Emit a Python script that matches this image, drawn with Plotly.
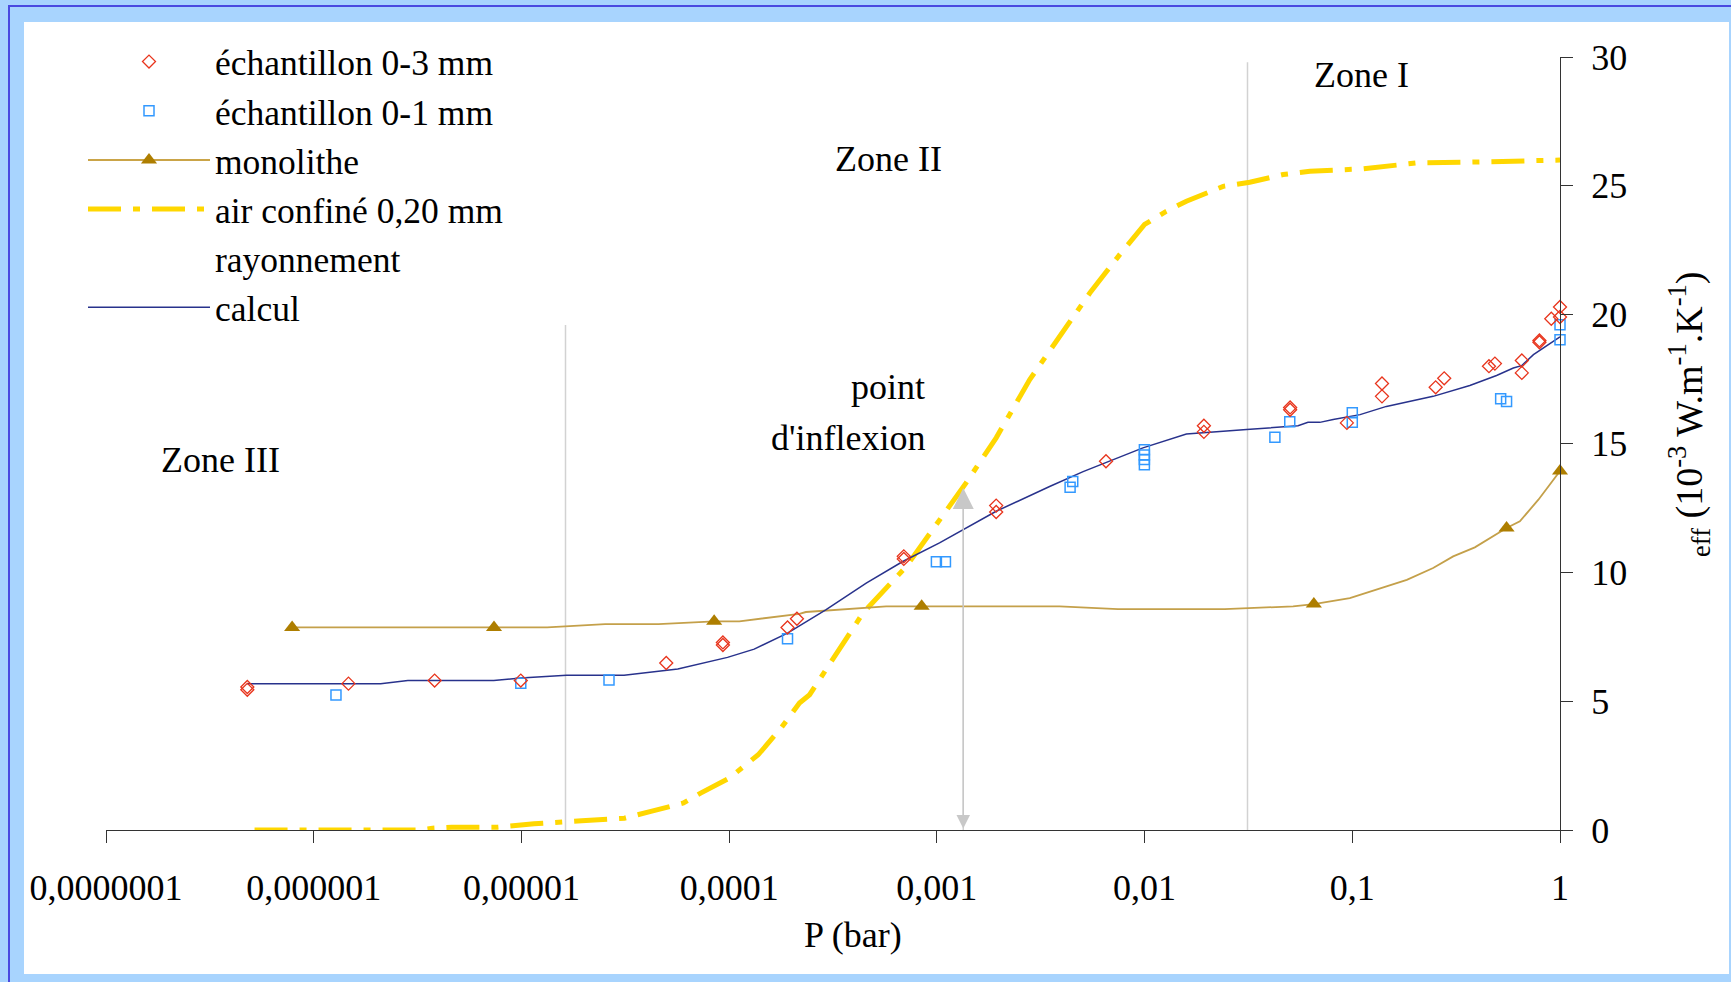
import math
import plotly.graph_objects as go

# ---------------- data ----------------
# P in bar, conductivity in 1e-3 W/m/K
ech03_p = [4.79e-7, 4.79e-7, 1.47e-6, 3.82e-6, 9.93e-6, 4.98e-5, 9.33e-5, 9.33e-5, 1.91e-4, 2.12e-4,
           6.93e-4, 6.93e-4, 1.93e-3, 1.93e-3, 6.52e-3, 0.0193, 0.0193, 0.0502, 0.0502, 0.0942,
           0.139, 0.139, 0.252, 0.277, 0.455, 0.486, 0.655, 0.655, 0.796, 0.796, 0.908, 1.0, 1.0]
ech03_k = [5.55, 5.44, 5.68, 5.80, 5.80, 6.48, 7.28, 7.18, 7.86, 8.20,
           10.62, 10.52, 12.59, 12.34, 14.31, 15.69, 15.45, 16.40, 16.31, 15.80,
           17.33, 16.83, 17.18, 17.53, 18.00, 18.10, 18.22, 17.74, 19.00, 18.93, 19.84, 20.30, 19.91]

ech01_p = [1.28e-6, 9.93e-6, 2.64e-5, 1.91e-4, 9.95e-4, 1.10e-3, 4.38e-3, 4.51e-3,
           0.00998, 0.00998, 0.00998, 0.00998, 0.0424, 0.0500, 0.1, 0.1, 0.518, 0.553, 1.0, 1.0]
ech01_k = [5.24, 5.70, 5.82, 7.42, 10.41, 10.41, 13.30, 13.53,
           14.76, 14.55, 14.38, 14.18, 15.24, 15.84, 16.19, 15.82, 16.74, 16.63, 19.61, 19.03]

mono_line_p = [7.87e-7, 1.33e-5, 2.53e-5, 4.57e-5, 8.47e-5, 1.12e-4, 2.18e-4, 2.34e-4, 5.70e-4,
               3.90e-3, 7.45e-3, 0.0243, 0.0519, 0.0653, 0.0973, 0.183, 0.245, 0.306, 0.389,
               0.553, 0.641, 0.787, 1.0]
mono_line_k = [7.86, 7.86, 7.99, 7.99, 8.10, 8.10, 8.39, 8.46, 8.68,
               8.68, 8.57, 8.57, 8.68, 8.77, 9.00, 9.71, 10.17, 10.62, 10.97,
               11.72, 11.98, 12.82, 13.93]
mono_pts_p = [7.87e-7, 7.38e-6, 8.47e-5, 8.45e-4, 0.0653, 0.553, 1.0]
mono_pts_k = [7.86, 7.86, 8.10, 8.68, 8.77, 11.72, 13.93]

air_p = [5.19e-7, 3.21e-6, 3.73e-6, 4.62e-6, 7.69e-6, 9.93e-6, 1.15e-5, 1.95e-5, 3.13e-5,
         4.20e-5, 6.03e-5, 7.29e-5, 1.00e-4, 1.38e-4, 1.78e-4, 2.18e-4, 2.44e-4, 4.41e-4,
         7.13e-4, 1.38e-3, 1.93e-3, 2.80e-3, 3.90e-3, 5.45e-3, 7.59e-3, 0.0100, 0.0127,
         0.0159, 0.0239, 0.0321, 0.0465, 0.0625, 0.113, 0.157, 0.204, 0.368, 1.0]
air_k = [0.0, 0.0, 0.07, 0.11, 0.11, 0.20, 0.24, 0.36, 0.46,
         0.72, 1.05, 1.43, 2.01, 2.92, 3.96, 4.93, 5.25, 8.42,
         10.23, 13.46, 15.22, 17.48, 19.16, 20.84, 22.33, 23.50, 24.01,
         24.40, 24.98, 25.14, 25.44, 25.57, 25.66, 25.79, 25.89, 25.92, 26.0]

calc_p = [4.79e-7, 2.10e-6, 2.84e-6, 7.36e-6, 9.93e-6, 1.65e-5, 3.12e-5, 5.66e-5, 9.82e-5,
          1.32e-4, 1.91e-4, 2.93e-4, 4.57e-4, 6.85e-4, 1.03e-3, 1.93e-3, 3.49e-3, 5.06e-3,
          9.82e-3, 0.0159, 0.0310, 0.0548, 0.0612, 0.0698, 0.0809, 0.109, 0.146, 0.245,
          0.368, 0.495, 0.596, 0.653, 0.745, 1.0]
calc_k = [5.68, 5.68, 5.80, 5.80, 5.90, 6.01, 6.01, 6.25, 6.70,
          7.02, 7.64, 8.55, 9.58, 10.42, 11.14, 12.37, 13.33, 13.91,
          14.83, 15.37, 15.54, 15.69, 15.82, 15.82, 15.93, 16.12, 16.44, 16.83,
          17.25, 17.64, 17.93, 18.02, 18.45, 19.14]

# zone separators (P, top value) and inflexion arrow
zone_line_p = [1.63e-5, 0.0313]
zone_line_top = [19.6, 29.8]
inflexion_p = 1.34e-3
inflexion_top = 13.27

tick_vals = [1e-7, 1e-6, 1e-5, 1e-4, 1e-3, 1e-2, 1e-1, 1]
tick_text = ["0,0000001", "0,000001", "0,00001", "0,0001", "0,001", "0,01", "0,1", "1"]
y_ticks = [0, 5, 10, 15, 20, 25, 30]

# ---------------- layout helpers ----------------
W, H = 1731, 982
L, R, T, B = 106, 171, 57, 152
PW, PH = W - L - R, H - T - B


def px(x):
    return (x - L) / PW


def py(y):
    return (H - B - y) / PH


FONT = "Liberation Serif"

fig = go.Figure()

for p, top in zip(zone_line_p, zone_line_top):
    fig.add_trace(go.Scatter(x=[p, p], y=[0, top], mode="lines",
                             line=dict(color="#D2D2D2", width=1.5),
                             showlegend=False, hoverinfo="skip"))

fig.add_trace(go.Scatter(x=[inflexion_p, inflexion_p], y=[0, inflexion_top], mode="lines",
                         line=dict(color="#D2D2D2", width=1.5), showlegend=False, hoverinfo="skip"))

fig.add_trace(go.Scatter(x=air_p, y=air_k, mode="lines", name="air confiné 0,20 mm",
                         line=dict(color="#FFD700", width=5, dash="33px,12px,7px,12px"),
                         legendrank=4, cliponaxis=False))

fig.add_trace(go.Scatter(x=mono_line_p, y=mono_line_k, mode="lines",
                         line=dict(color="#C4A04A", width=1.8), showlegend=False, cliponaxis=False))
fig.add_trace(go.Scatter(x=mono_pts_p, y=mono_pts_k, mode="markers",
                         marker=dict(symbol="triangle-up", size=14, color="#AE7E00"),
                         showlegend=False, cliponaxis=False))
fig.add_trace(go.Scatter(x=[None], y=[None], mode="lines+markers", name="monolithe",
                         line=dict(color="#B8860B", width=1.5),
                         marker=dict(symbol="triangle-up", size=14, color="#AE7E00"),
                         legendrank=3))

fig.add_trace(go.Scatter(x=[None], y=[None], mode="lines", name="rayonnement",
                         line=dict(color="white", width=1.5), legendrank=5))

fig.add_trace(go.Scatter(x=calc_p, y=calc_k, mode="lines", name="calcul",
                         line=dict(color="#28328C", width=1.5), legendrank=6, cliponaxis=False))

fig.add_trace(go.Scatter(x=ech01_p, y=ech01_k, mode="markers", name="échantillon 0-1 mm",
                         marker=dict(symbol="square-open", size=10, color="#3399FF",
                                     line=dict(width=1.5)),
                         legendrank=2, cliponaxis=False))
fig.add_trace(go.Scatter(x=ech03_p, y=ech03_k, mode="markers", name="échantillon 0-3 mm",
                         marker=dict(symbol="diamond-open", size=10, color="#E8341C",
                                     line=dict(width=1.3)),
                         legendrank=1, cliponaxis=False))

# arrowheads of the inflexion marker
fig.add_annotation(x=math.log10(inflexion_p), y=inflexion_top, ax=math.log10(inflexion_p), ay=0,
                   xref="x", yref="y", axref="x", ayref="y", text="", showarrow=True,
                   arrowhead=2, startarrowhead=2, arrowside="end+start",
                   arrowsize=2.8, startarrowsize=1.8, arrowwidth=1.5,
                   arrowcolor="#C8C8C8")

text_font = dict(family=FONT, size=36, color="black")


def label(txt, x, y, xanchor="center", font=text_font, **kw):
    fig.add_annotation(x=px(x), y=py(y), xref="paper", yref="paper", text=txt,
                       showarrow=False, xanchor=xanchor, yanchor="middle",
                       font=font, **kw)


label("Zone I", 1361, 75)
label("Zone II", 888, 159)
label("Zone III", 220, 460)
label("point", 927, 387, xanchor="right")
label("d'inflexion", 927, 438, xanchor="right")
label("P (bar)", 853, 935)
label("<sub>eff</sub> (10<sup>-3</sup> W.m<sup>-1</sup>.K<sup>-1</sup>)", 1689, 414, textangle=-90,
      font=dict(family=FONT, size=38, color="black"))

# background frame
fig.add_shape(type="rect", xref="paper", yref="paper", x0=px(9), x1=px(1760), y0=py(1010), y1=py(6),
              line=dict(color="#4A4AE0", width=2), fillcolor="#A8D4FE", layer="below")
fig.add_shape(type="rect", xref="paper", yref="paper", x0=px(24), x1=px(1729), y0=py(974), y1=py(22),
              line=dict(width=0), fillcolor="white", layer="below")

fig.update_xaxes(type="log", range=[-7, 0], tickvals=tick_vals, ticktext=tick_text,
                 ticks="outside", ticklen=12, tickcolor="#333333", showline=True,
                 linecolor="#333333", linewidth=1, showgrid=False, zeroline=False,
                 tickfont=text_font, ticklabelstandoff=14)
fig.update_yaxes(range=[0, 30], tickvals=y_ticks, side="right", ticks="outside", ticklen=12,
                 tickcolor="#333333", showline=True, linecolor="#333333", linewidth=1,
                 showgrid=False, zeroline=False, tickfont=text_font, ticklabelstandoff=11)

fig.update_layout(
    width=W, height=H, margin=dict(l=L, r=R, t=T, b=B),
    paper_bgcolor="#A8D4FE", plot_bgcolor="white",
    font=dict(family=FONT, color="black"),
    legend=dict(x=px(83), y=py(32), xanchor="left", yanchor="top", bgcolor="rgba(0,0,0,0)",
                font=dict(family=FONT, size=35.5, color="black"), itemwidth=122,
                tracegroupgap=0),
    showlegend=True,
)

fig.write_html(
    "out.html",
    config={"displayModeBar": False},
    post_script="document.body.style.margin='0';document.body.style.overflow='hidden';",
)
